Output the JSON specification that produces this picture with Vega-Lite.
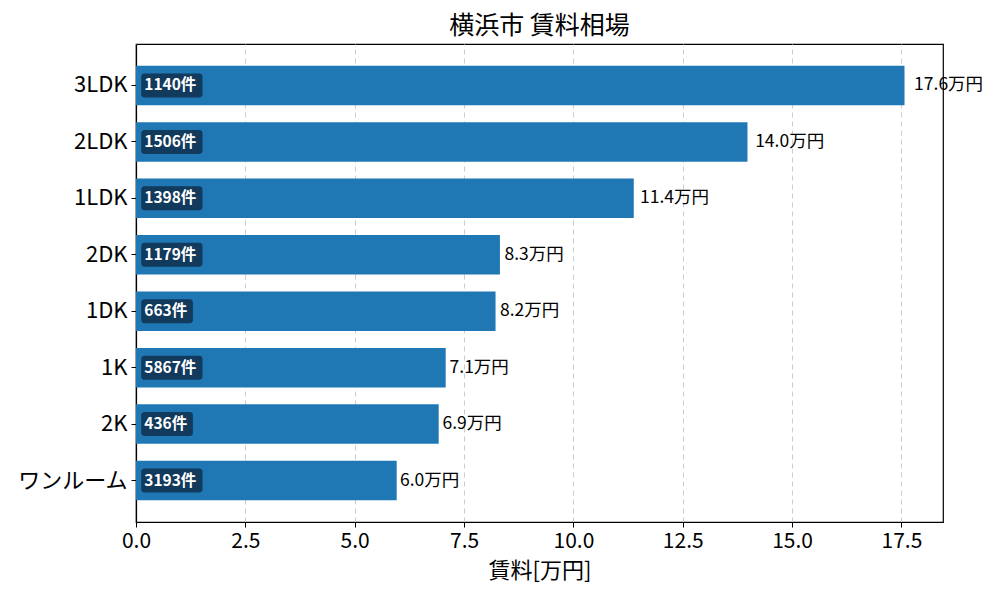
{
  "$schema": "https://vega.github.io/schema/vega-lite/v6.json",
  "width": 807,
  "height": 478,
  "autosize": {"type": "none"},
  "padding": {"left": 136, "top": 44, "right": 57, "bottom": 78},
  "config": {
    "font": "Noto Sans CJK JP",
    "view": {"stroke": "black", "strokeWidth": 1.2},
    "axis": {"labelFont": "Noto Sans CJK JP", "titleFont": "Noto Sans CJK JP", "labelColor": "black", "titleColor": "black", "domainColor": "black", "domainWidth": 1.2, "tickColor": "black", "titleFontWeight": "normal"}
  },
  "title": {"text": "横浜市 賃料相場", "fontSize": 25, "fontWeight": "normal", "font": "Noto Sans CJK JP", "color": "black", "offset": 5},
  "data": {
    "values": [
      {"type": "3LDK", "rent": 17.57, "count": 1140},
      {"type": "2LDK", "rent": 13.98, "count": 1506},
      {"type": "1LDK", "rent": 11.38, "count": 1398},
      {"type": "2DK", "rent": 8.32, "count": 1179},
      {"type": "1DK", "rent": 8.22, "count": 663},
      {"type": "1K", "rent": 7.08, "count": 5867},
      {"type": "2K", "rent": 6.92, "count": 436},
      {"type": "ワンルーム", "rent": 5.96, "count": 3193}
    ]
  },
  "transform": [
    {"calculate": "datum.count + '件'", "as": "countLabel"},
    {"calculate": "format(datum.rent, '.1f') + '万円'", "as": "rentLabel"},
    {"calculate": "datum.rent * 1.0125", "as": "labelX"},
    {"calculate": "0.12", "as": "boxStart"},
    {"calculate": "0.64 + 0.22 * length(toString(datum.count))", "as": "boxEnd"}
  ],
  "encoding": {
    "y": {
      "field": "type", "type": "nominal", "sort": null,
      "scale": {"paddingInner": 0.3, "paddingOuter": 0.385},
      "axis": {"title": null, "labelFontSize": 22, "labelPadding": 4, "tickSize": 5, "domain": true}
    }
  },
  "layer": [
    {
      "mark": {"type": "bar", "color": "#1f77b4"},
      "encoding": {
        "x": {
          "field": "rent", "type": "quantitative",
          "scale": {"domain": [0, 18.45], "nice": false, "zero": true},
          "axis": {
            "title": "賃料[万円]", "titleFontSize": 22, "titlePadding": 9,
            "labelFontSize": 21, "values": [0, 2.5, 5, 7.5, 10, 12.5, 15, 17.5],
            "format": ".1f", "labelPadding": 3, "tickSize": 5, "domain": true, "labelFlush": false,
            "grid": true, "gridDash": [5, 4], "gridColor": "#cccccc", "gridWidth": 1
          }
        }
      }
    },
    {
      "mark": {"type": "bar", "color": "#123a5c", "cornerRadius": 3, "height": 24},
      "encoding": {
        "x": {"field": "boxStart", "type": "quantitative"},
        "x2": {"field": "boxEnd"}
      }
    },
    {
      "mark": {"type": "text", "align": "left", "baseline": "middle", "dx": 3, "fontSize": 15.5, "fontWeight": "bold", "color": "white"},
      "encoding": {
        "x": {"field": "boxStart", "type": "quantitative"},
        "text": {"field": "countLabel"}
      }
    },
    {
      "mark": {"type": "text", "align": "left", "baseline": "middle", "dx": 0, "fontSize": 17.5, "color": "black"},
      "encoding": {
        "x": {"field": "labelX", "type": "quantitative"},
        "text": {"field": "rentLabel"}
      }
    }
  ]
}
